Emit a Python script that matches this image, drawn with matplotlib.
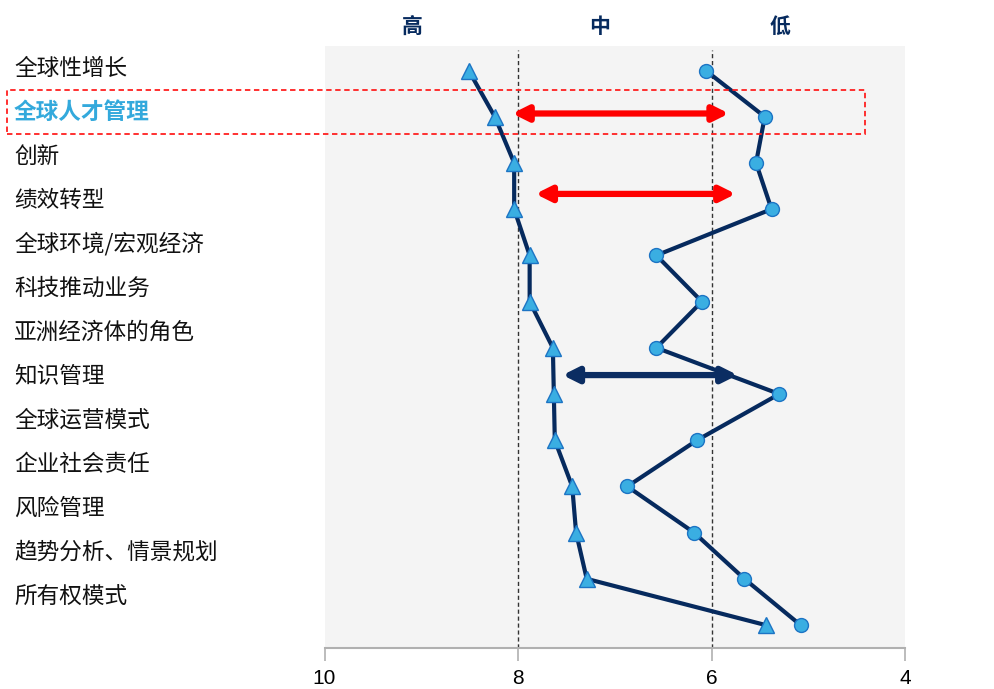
import matplotlib
matplotlib.use("Agg")
import matplotlib.pyplot as plt
from matplotlib.patches import Rectangle

plt.rcParams['font.family'] = ['Noto Sans CJK SC', 'DejaVu Sans']

# datos
categorias = ["全球性增长", "全球人才管理", "创新", "绩效转型", "全球环境/宏观经济",
              "科技推动业务", "亚洲经济体的角色", "知识管理", "全球运营模式",
              "企业社会责任", "风险管理", "趋势分析、情景规划", "所有权模式"]
serie_triangulo = [8.51, 8.24, 8.04, 8.04, 7.88, 7.88, 7.64, 7.63, 7.62, 7.44, 7.40, 7.29, 5.44]
serie_circulo = [6.06, 5.45, 5.54, 5.38, 6.57, 6.10, 6.57, 5.30, 6.15, 6.87, 6.18, 5.66, 5.08]
niveles = ["高", "中", "低"]
niveles_x = [9.09, 7.16, 5.29]
ticks_x = [10, 8, 6, 4]
# flechas: (fila, desde, hasta, color)
flechas = [(0.93, 8.06, 5.82, "#FF0000"), (2.67, 7.82, 5.75, "#FF0000"), (6.59, 7.54, 5.73, "#0B2D62")]

navy = "#062A5E"
relleno = "#3AAEE2"
borde = "#1C74C4"

fig = plt.figure(figsize=(9.94, 6.89), dpi=100)
ax = fig.add_axes([0.3265, 0.0599, 0.584, 0.8733])
ax.set_facecolor("#F4F4F4")

filas = list(range(len(categorias)))
ax.plot(serie_triangulo, filas, color=navy, lw=3, marker="^", markersize=11,
        markerfacecolor=relleno, markeredgecolor=borde, markeredgewidth=1, zorder=3)
ax.plot(serie_circulo, filas, color=navy, lw=3, marker="o", markersize=10,
        markerfacecolor=relleno, markeredgecolor=borde, markeredgewidth=1, zorder=3)

for xv in [8, 6]:
    ax.axvline(xv, ymax=0.993, color="#333333", lw=1, linestyle=(0, (3, 2)), zorder=1)

for fila, x0, x1, col in flechas:
    ax.annotate("", xy=(x1, fila), xytext=(x0, fila),
                arrowprops=dict(arrowstyle="<|-|>,head_length=0.9,head_width=0.45",
                                color=col, lw=4.5, shrinkA=0, shrinkB=0), zorder=4)

ax.set_xlim(10, 4)
ax.set_ylim(12.49, -0.53)
ax.set_yticks([])
ax.set_xticks(ticks_x)
ax.set_xticklabels([str(t) for t in ticks_x], fontsize=15, family="Liberation Sans")
ax.tick_params(axis="x", length=9, width=1.2, color="#B0B0B0", pad=6)
for lado in ["top", "left", "right"]:
    ax.spines[lado].set_visible(False)
ax.spines["bottom"].set_color("#B0B0B0")
ax.spines["bottom"].set_linewidth(1.5)

for nombre, xv in zip(niveles, niveles_x):
    ax.text(xv, 1.033, nombre, transform=ax.get_xaxis_transform(), ha="center", va="center",
            fontsize=15, fontweight="bold", color=navy)

# columna de etiquetas
ax_lab = fig.add_axes([0, 0.135, 1, 0.766])
ax_lab.set_ylim(len(categorias) - 1, 0)
ax_lab.axis("off")
for i, cat in enumerate(categorias):
    if i == 1:
        ax_lab.text(0.014, i, cat, transform=ax_lab.get_yaxis_transform(), ha="left", va="center",
                    fontsize=16.3, fontweight="bold", color="#33A9DC")
    else:
        ax_lab.text(0.014, i, cat, transform=ax_lab.get_yaxis_transform(), ha="left", va="center",
                    fontsize=16.3, color="#111111")

fig.patches.append(Rectangle((0.0073, 0.8055), 0.863, 0.0639, transform=fig.transFigure,
                             fill=False, edgecolor="#FF2020", lw=1.3, linestyle=(0, (3, 2))))

plt.savefig("out.png", dpi=100)
